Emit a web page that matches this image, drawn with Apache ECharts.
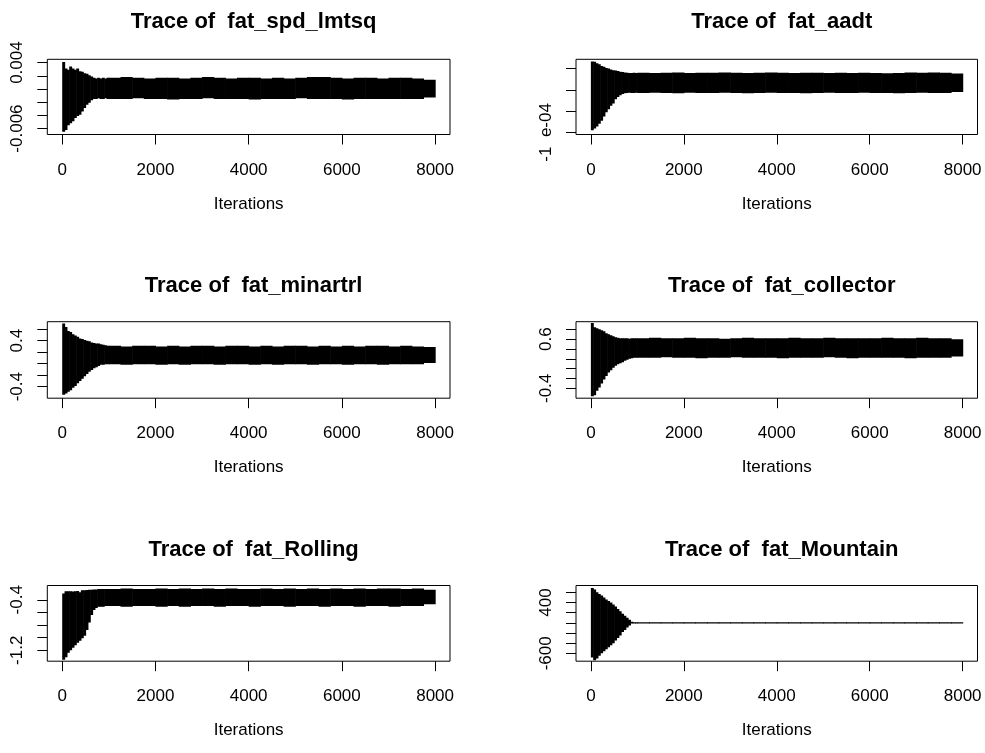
<!DOCTYPE html>
<html><head><meta charset="utf-8">
<script src="https://cdn.jsdelivr.net/npm/echarts@6/dist/echarts.min.js"></script>
<style>html,body{margin:0;padding:0;background:#fff}#c{width:985px;height:753px}</style>
</head><body><div id="c"></div>
<script>
// ---- data ----
// iteration bin edges: 50-wide bins during burn-in, 250-wide afterwards
const binEdges = [0,50,100,150,200,250,300,350,400,450,500,550,600,650,700,750,800,850,900,950,1000,
  1250,1500,1750,2000,2250,2500,2750,3000,3250,3500,3750,4000,4250,4500,4750,5000,5250,5500,5750,6000,
  6250,6500,6750,7000,7250,7500,7750,8000];
const xTicks = [0,2000,4000,6000,8000];
const xRange = [-320, 8320];
const xName = 'Iterations';

const titleSpd = 'Trace of  fat_spd_lmtsq';
const spdHi = [0.0041,0.0031,0.0029,0.0034,0.0031,0.0029,0.0031,0.0027,0.0026,0.0024,0.0023,0.0021,0.0019,0.0017,0.0016,0.0017,0.0016,0.0017,0.0016,0.0017,
  0.0017,0.0018,0.0017,0.0016,0.0017,0.0017,0.0016,0.0017,0.0018,0.0017,0.0016,0.0017,0.0017,0.0016,0.0017,0.0016,0.0017,0.0018,0.0018,0.0017,0.0016,0.0017,0.0017,0.0016,0.0017,0.0017,0.0016,0.0014];
const spdLo = [-0.0065,-0.0062,-0.0055,-0.0052,-0.0049,-0.0044,-0.0041,-0.0039,-0.0034,-0.0029,-0.0024,-0.0021,-0.0017,-0.0015,-0.0015,-0.0014,-0.0015,-0.0015,-0.0014,-0.0015,
  -0.0015,-0.0015,-0.0014,-0.0015,-0.0015,-0.0016,-0.0015,-0.0015,-0.0014,-0.0015,-0.0015,-0.0015,-0.0016,-0.0015,-0.0015,-0.0015,-0.0014,-0.0015,-0.0015,-0.0015,-0.0016,-0.0015,-0.0015,-0.0015,-0.0015,-0.0015,-0.0015,-0.0013];
const spdRange = [-0.0069, 0.0045];
const spdTicks = [-0.006,-0.004,-0.002,0,0.002,0.004];
const spdLabelVals = [-0.006, 0.004];
const spdLabels = ['-0.006','0.004'];

const titleAadt = 'Trace of  fat_aadt';
const aadtHi = [2.33e-4,2.32e-4,2.25e-4,2.20e-4,2.12e-4,2.08e-4,2.02e-4,2.00e-4,1.95e-4,1.92e-4,1.90e-4,1.88e-4,1.85e-4,1.83e-4,1.81e-4,1.80e-4,1.79e-4,1.79e-4,1.80e-4,1.79e-4,
  1.80e-4,1.79e-4,1.80e-4,1.81e-4,1.79e-4,1.80e-4,1.80e-4,1.81e-4,1.80e-4,1.79e-4,1.80e-4,1.81e-4,1.80e-4,1.79e-4,1.80e-4,1.80e-4,1.79e-4,1.80e-4,1.79e-4,1.80e-4,1.79e-4,1.78e-4,1.79e-4,1.81e-4,1.80e-4,1.81e-4,1.80e-4,1.76e-4];
const aadtLo = [-0.90e-4,-0.82e-4,-0.72e-4,-0.60e-4,-0.45e-4,-0.25e-4,-0.05e-4,0.08e-4,0.25e-4,0.35e-4,0.55e-4,0.66e-4,0.74e-4,0.80e-4,0.84e-4,0.85e-4,0.86e-4,0.85e-4,0.85e-4,0.86e-4,
  0.85e-4,0.86e-4,0.85e-4,0.84e-4,0.86e-4,0.85e-4,0.85e-4,0.86e-4,0.85e-4,0.84e-4,0.85e-4,0.86e-4,0.85e-4,0.85e-4,0.84e-4,0.85e-4,0.86e-4,0.85e-4,0.85e-4,0.86e-4,0.85e-4,0.85e-4,0.84e-4,0.85e-4,0.86e-4,0.85e-4,0.85e-4,0.90e-4];
const aadtRange = [-1.1e-4, 2.43e-4];
const aadtTicks = [-1e-4, 0, 1e-4, 2e-4];
const aadtLabelVals = [-1e-4];
const aadtLabels = ['-1  e-04'];

const titleMin = 'Trace of  fat_minartrl';
const minHi = [0.70,0.64,0.57,0.55,0.51,0.49,0.47,0.44,0.43,0.41,0.40,0.39,0.37,0.36,0.35,0.35,0.34,0.33,0.32,0.31,
  0.31,0.30,0.31,0.31,0.30,0.31,0.30,0.31,0.31,0.30,0.31,0.31,0.30,0.31,0.30,0.31,0.31,0.30,0.31,0.30,0.31,0.30,0.31,0.31,0.30,0.31,0.30,0.29];
const minLo = [-0.54,-0.52,-0.49,-0.46,-0.42,-0.39,-0.34,-0.30,-0.26,-0.22,-0.18,-0.14,-0.11,-0.08,-0.06,-0.04,-0.02,-0.02,-0.01,-0.01,
  -0.01,-0.02,-0.01,-0.01,-0.02,-0.01,-0.02,-0.01,-0.01,-0.02,-0.01,-0.01,-0.02,-0.01,-0.02,-0.01,-0.01,-0.02,-0.01,-0.01,-0.02,-0.01,-0.01,-0.02,-0.01,-0.01,-0.01,0.01];
const minRange = [-0.60, 0.73];
const minTicks = [-0.4,-0.2,0,0.2,0.4,0.6];
const minLabelVals = [-0.4, 0.4];
const minLabels = ['-0.4','0.4'];

const titleCol = 'Trace of  fat_collector';
const colHi = [0.93,0.84,0.82,0.80,0.78,0.76,0.72,0.70,0.68,0.66,0.64,0.63,0.62,0.62,0.62,0.62,0.61,0.62,0.62,0.62,
  0.62,0.63,0.62,0.62,0.63,0.62,0.62,0.61,0.62,0.63,0.62,0.62,0.62,0.63,0.62,0.62,0.63,0.62,0.62,0.62,0.62,0.63,0.62,0.62,0.63,0.62,0.62,0.60];
const colLo = [-0.56,-0.54,-0.45,-0.38,-0.30,-0.22,-0.15,-0.08,-0.03,0.02,0.06,0.09,0.11,0.13,0.16,0.18,0.20,0.21,0.22,0.22,
  0.22,0.22,0.23,0.22,0.22,0.21,0.22,0.22,0.23,0.22,0.22,0.22,0.21,0.22,0.22,0.22,0.23,0.22,0.21,0.22,0.22,0.22,0.22,0.21,0.22,0.22,0.22,0.25];
const colRange = [-0.60, 0.955];
const colTicks = [-0.4,-0.2,0,0.2,0.4,0.6,0.8];
const colLabelVals = [-0.4, 0.6];
const colLabels = ['-0.4','0.6'];

const titleRol = 'Trace of  fat_Rolling';
const rolHi = [-0.30,-0.265,-0.265,-0.265,-0.27,-0.265,-0.26,-0.28,-0.25,-0.25,-0.245,-0.24,-0.24,-0.235,-0.235,-0.23,-0.23,-0.23,-0.23,-0.23,
  -0.23,-0.22,-0.23,-0.23,-0.22,-0.23,-0.22,-0.23,-0.22,-0.23,-0.22,-0.23,-0.23,-0.22,-0.23,-0.22,-0.23,-0.22,-0.23,-0.22,-0.23,-0.22,-0.23,-0.22,-0.22,-0.23,-0.22,-0.24];
const rolLo = [-1.35,-1.31,-1.24,-1.20,-1.16,-1.12,-1.08,-1.05,-1.01,-0.97,-0.88,-0.76,-0.64,-0.56,-0.53,-0.51,-0.51,-0.51,-0.50,-0.50,
  -0.50,-0.51,-0.50,-0.50,-0.51,-0.50,-0.51,-0.50,-0.50,-0.51,-0.50,-0.50,-0.51,-0.50,-0.50,-0.51,-0.50,-0.50,-0.51,-0.50,-0.50,-0.51,-0.50,-0.50,-0.51,-0.50,-0.50,-0.47];
const rolRange = [-1.374, -0.173];
const rolTicks = [-1.2,-1.0,-0.8,-0.6,-0.4];
const rolLabelVals = [-1.2, -0.4];
const rolLabels = ['-1.2','-0.4'];

const titleMtn = 'Trace of  fat_Mountain';
const mtnHi = [688,654,600,570,540,500,460,430,400,360,320,270,230,180,140,100,60,20,0,0,
  0,0,0,0,0,0,0,0,0,0,0,0,0,0,0,0,0,0,0,0,0,0,0,0,0,0,0,0];
const mtnLo = [-680,-735,-700,-650,-600,-560,-520,-480,-440,-400,-350,-300,-250,-180,-140,-90,-50,-15,0,0,
  0,0,0,0,0,0,0,0,0,0,0,0,0,0,0,0,0,0,0,0,0,0,0,0,0,0,0,0];
const mtnRange = [-755, 735];
const mtnTicks = [-600,-400,-200,0,200,400,600];
const mtnLabelVals = [-600, 400];
const mtnLabels = ['-600','400'];

// ---- layout / style ----
const panels = [
  {title: titleSpd, hi: spdHi, lo: spdLo, range: spdRange, ticks: spdTicks, lv: spdLabelVals, lt: spdLabels},
  {title: titleAadt, hi: aadtHi, lo: aadtLo, range: aadtRange, ticks: aadtTicks, lv: aadtLabelVals, lt: aadtLabels},
  {title: titleMin, hi: minHi, lo: minLo, range: minRange, ticks: minTicks, lv: minLabelVals, lt: minLabels},
  {title: titleCol, hi: colHi, lo: colLo, range: colRange, ticks: colTicks, lv: colLabelVals, lt: colLabels},
  {title: titleRol, hi: rolHi, lo: rolLo, range: rolRange, ticks: rolTicks, lv: rolLabelVals, lt: rolLabels},
  {title: titleMtn, hi: mtnHi, lo: mtnLo, range: mtnRange, ticks: mtnTicks, lv: mtnLabelVals, lt: mtnLabels}
];
const colLeft = [47.3, 576], colWidth = [402.7, 401.5];
const rowTop = [59.3, 321.7, 585.5], rowHeight = [75.2, 76.5, 75.7];
const titleTop = [6, 270, 534];
const axisFont = "'Liberation Sans',Arial,sans-serif";

function renderItem(params, api) {
  const p0 = api.coord([api.value(0), api.value(3)]);
  const p1 = api.coord([api.value(1), api.value(2)]);
  let y = p0[1], h = p1[1] - p0[1];
  if (h < 1.3) { y = (p0[1] + p1[1]) / 2 - 0.65; h = 1.3; }
  return {type: 'rect', shape: {x: p0[0], y: y, width: p1[0] - p0[0] + 0.6, height: h}, style: {fill: '#000'}};
}

const option = {animation: false, backgroundColor: '#fff', title: [], grid: [], xAxis: [], yAxis: [], series: []};
panels.forEach((p, i) => {
  const c = i % 2, r = Math.floor(i / 2);
  option.grid.push({left: colLeft[c], top: rowTop[r], width: colWidth[c], height: rowHeight[r],
    show: true, borderColor: '#000', borderWidth: 1, backgroundColor: 'transparent'});
  option.title.push({text: p.title, left: colLeft[c] + colWidth[c] / 2, top: titleTop[r], textAlign: 'center',
    textStyle: {fontFamily: "'Liberation Sans',Arial,sans-serif", fontWeight: 'bold', fontSize: 22, color: '#000'}});
  option.xAxis.push({type: 'value', gridIndex: i, min: xRange[0], max: xRange[1],
    axisLine: {show: false, onZero: false}, splitLine: {show: false},
    axisTick: {show: true, length: 10, customValues: xTicks, lineStyle: {color: '#000', width: 1}},
    axisLabel: {customValues: xTicks, color: '#000', fontFamily: axisFont, fontSize: 17, margin: 27,
      formatter: v => String(v)},
    name: xName, nameLocation: 'middle', nameGap: 61,
    nameTextStyle: {color: '#000', fontFamily: axisFont, fontSize: 17}});
  option.yAxis.push({type: 'value', gridIndex: i, min: p.range[0], max: p.range[1],
    axisLine: {show: false, onZero: false}, splitLine: {show: false},
    axisTick: {show: true, length: 10, customValues: p.ticks, lineStyle: {color: '#000', width: 1}},
    axisLabel: {customValues: p.lv, rotate: 90, color: '#000', fontFamily: axisFont, fontSize: 17, margin: 21,
      formatter: function (v) {
        const k = p.lv.findIndex(x => Math.abs(x - v) <= Math.abs(x) * 1e-6 + 1e-15);
        return k >= 0 ? p.lt[k] : '';
      }}});
  const data = p.hi.map((h, k) => [binEdges[k], binEdges[k + 1], p.lo[k], h]);
  option.series.push({type: 'custom', xAxisIndex: i, yAxisIndex: i, renderItem: renderItem,
    encode: {x: [0, 1], y: [2, 3]}, data: data, clip: true});
});
const chart = echarts.init(document.getElementById('c'), null, {renderer: 'canvas'});
chart.setOption(option);
</script>
</body></html>
